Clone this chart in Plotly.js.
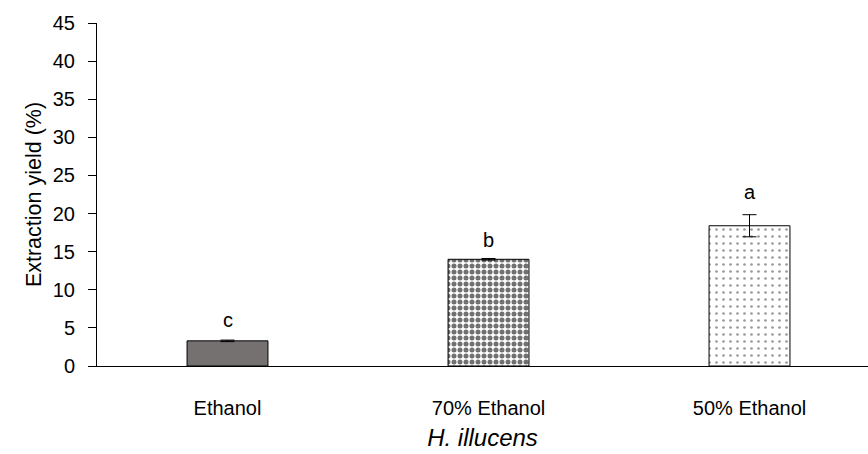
<!DOCTYPE html>
<html>
<head>
<meta charset="utf-8">
<script src="https://cdn.plot.ly/plotly-3.0.1.min.js"></script>
<style>html,body{margin:0;padding:0;background:#fff;}#chart{width:868px;height:454px;}</style>
</head>
<body>
<div id="chart"></div>
<script>
const categories = ["Ethanol", "70% Ethanol", "50% Ethanol"];
const yieldValues = [3.3, 14.0, 18.4];
const yieldErrors = [0.1, 0.1, 1.45];
const letters = ["c", "b", "a"];
const yTicks = [0, 5, 10, 15, 20, 25, 30, 35, 40, 45];

const FONT = "Liberation Sans, Arial, sans-serif";
const barStyles = [
  {color: "#767171", pattern: {shape: ""}},
  {color: "#ffffff", pattern: {shape: ".", fgcolor: "#707070", bgcolor: "#ffffff", size: 6, solidity: 0.55}},
  {color: "#ffffff", pattern: {shape: ".", fgcolor: "#9a9a9a", bgcolor: "#ffffff", size: 7, solidity: 0.12}}
];
const letterShift = [7, 6, 10];

const traces = categories.map((c, i) => ({
  type: "bar",
  x: [c],
  y: [yieldValues[i]],
  width: 0.31,
  marker: {color: barStyles[i].color, pattern: barStyles[i].pattern, line: {color: "#000", width: 1}},
  error_y: {type: "data", array: [yieldErrors[i]], visible: true, color: "#000", thickness: 1, width: 7},
  showlegend: false,
  hoverinfo: "skip"
}));
// invisible trace so the overlay axis (line and tick marks) is drawn
traces.push({type: "scatter", x: [categories[0]], y: [0], yaxis: "y2", mode: "none", showlegend: false, hoverinfo: "skip"});

const annotations = categories.map((c, i) => ({
  x: c, y: yieldValues[i] + yieldErrors[i], xref: "x", yref: "y",
  text: letters[i], showarrow: false, yanchor: "bottom", yshift: letterShift[i],
  font: {family: FONT, size: 20, color: "#000"}
}));

const layout = {
  width: 868, height: 454,
  margin: {l: 75, r: 0, t: 23, b: 88},
  paper_bgcolor: "#fff", plot_bgcolor: "#fff",
  bargap: 0,
  font: {family: FONT, color: "#000"},
  xaxis: {
    type: "category",
    domain: [22 / 793, 1],
    categoryorder: "array", categoryarray: categories,
    range: [-0.5, 2.454],
    showline: true, linecolor: "#000", linewidth: 1,
    ticks: "", showgrid: false, zeroline: false,
    tickfont: {family: FONT, size: 20, color: "#000"},
    ticklabelstandoff: 24,
    title: {text: "<i>H. illucens</i>", font: {family: FONT, size: 24, color: "#000"}, standoff: 11}
  },
  yaxis: {
    anchor: "free", position: 0,
    range: [0, 45], tickvals: yTicks, ticktext: yTicks.map(String),
    showline: false, ticks: "",
    showgrid: false, zeroline: false,
    tickfont: {family: FONT, size: 20, color: "#000"},
    title: {text: "Extraction yield (%)", font: {family: FONT, size: 21.5, color: "#000"}, standoff: 4}
  },
  yaxis2: {
    overlaying: "y", side: "left", anchor: "x",
    range: [0, 45], tickvals: yTicks, showticklabels: false,
    showline: true, linecolor: "#000", linewidth: 1,
    ticks: "outside", ticklen: 8, tickcolor: "#000", tickwidth: 1,
    showgrid: false, zeroline: false
  },
  annotations: annotations
};

Plotly.newPlot("chart", traces, layout, {staticPlot: true, displayModeBar: false});
</script>
</body>
</html>
